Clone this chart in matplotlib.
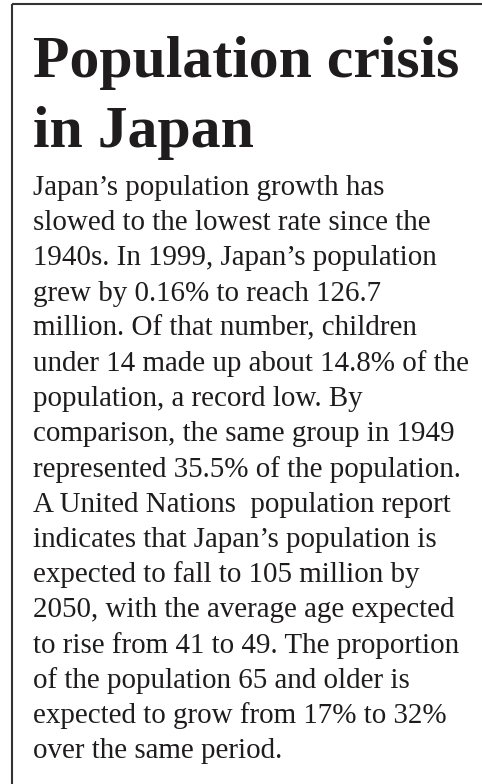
import matplotlib
matplotlib.use("Agg")
import matplotlib.pyplot as plt

title_lines = ["Population crisis", "in Japan"]
body_lines = [
    "Japan\u2019s population growth has",
    "slowed to the lowest rate since the",
    "1940s. In 1999, Japan\u2019s population",
    "grew by 0.16% to reach 126.7",
    "million. Of that number, children",
    "under 14 made up about 14.8% of the",
    "population, a record low. By",
    "comparison, the same group in 1949",
    "represented 35.5% of the population.",
    "A United Nations  population report",
    "indicates that Japan\u2019s population is",
    "expected to fall to 105 million by",
    "2050, with the average age expected",
    "to rise from 41 to 49. The proportion",
    "of the population 65 and older is",
    "expected to grow from 17% to 32%",
    "over the same period.",
]

W, H = 482, 784
fig = plt.figure(figsize=(W / 100, H / 100), dpi=100)
ax = fig.add_axes([0, 0, 1, 1])
ax.set_xlim(0, W)
ax.set_ylim(H, 0)
ax.axis("off")

# frame: top and left edges only (box is cropped)
ax.plot([11.5, W], [3.5, 3.5], color="#333333", lw=1.5, solid_capstyle="butt")
ax.plot([11.5, 11.5], [3.5, H], color="#333333", lw=1.5, solid_capstyle="butt")

x0 = 33
for i, s in enumerate(title_lines):
    ax.text(x0, 77 + i * 70, s, family="Liberation Serif", weight="bold",
            fontsize=43, color="#1e1c1c", va="baseline", ha="left")

for i, s in enumerate(body_lines):
    ax.text(x0, 195 + i * 35.2, s, family="Liberation Serif",
            fontsize=20.9, color="#1e1c1c", va="baseline", ha="left")

fig.savefig("out.png", dpi=100)
